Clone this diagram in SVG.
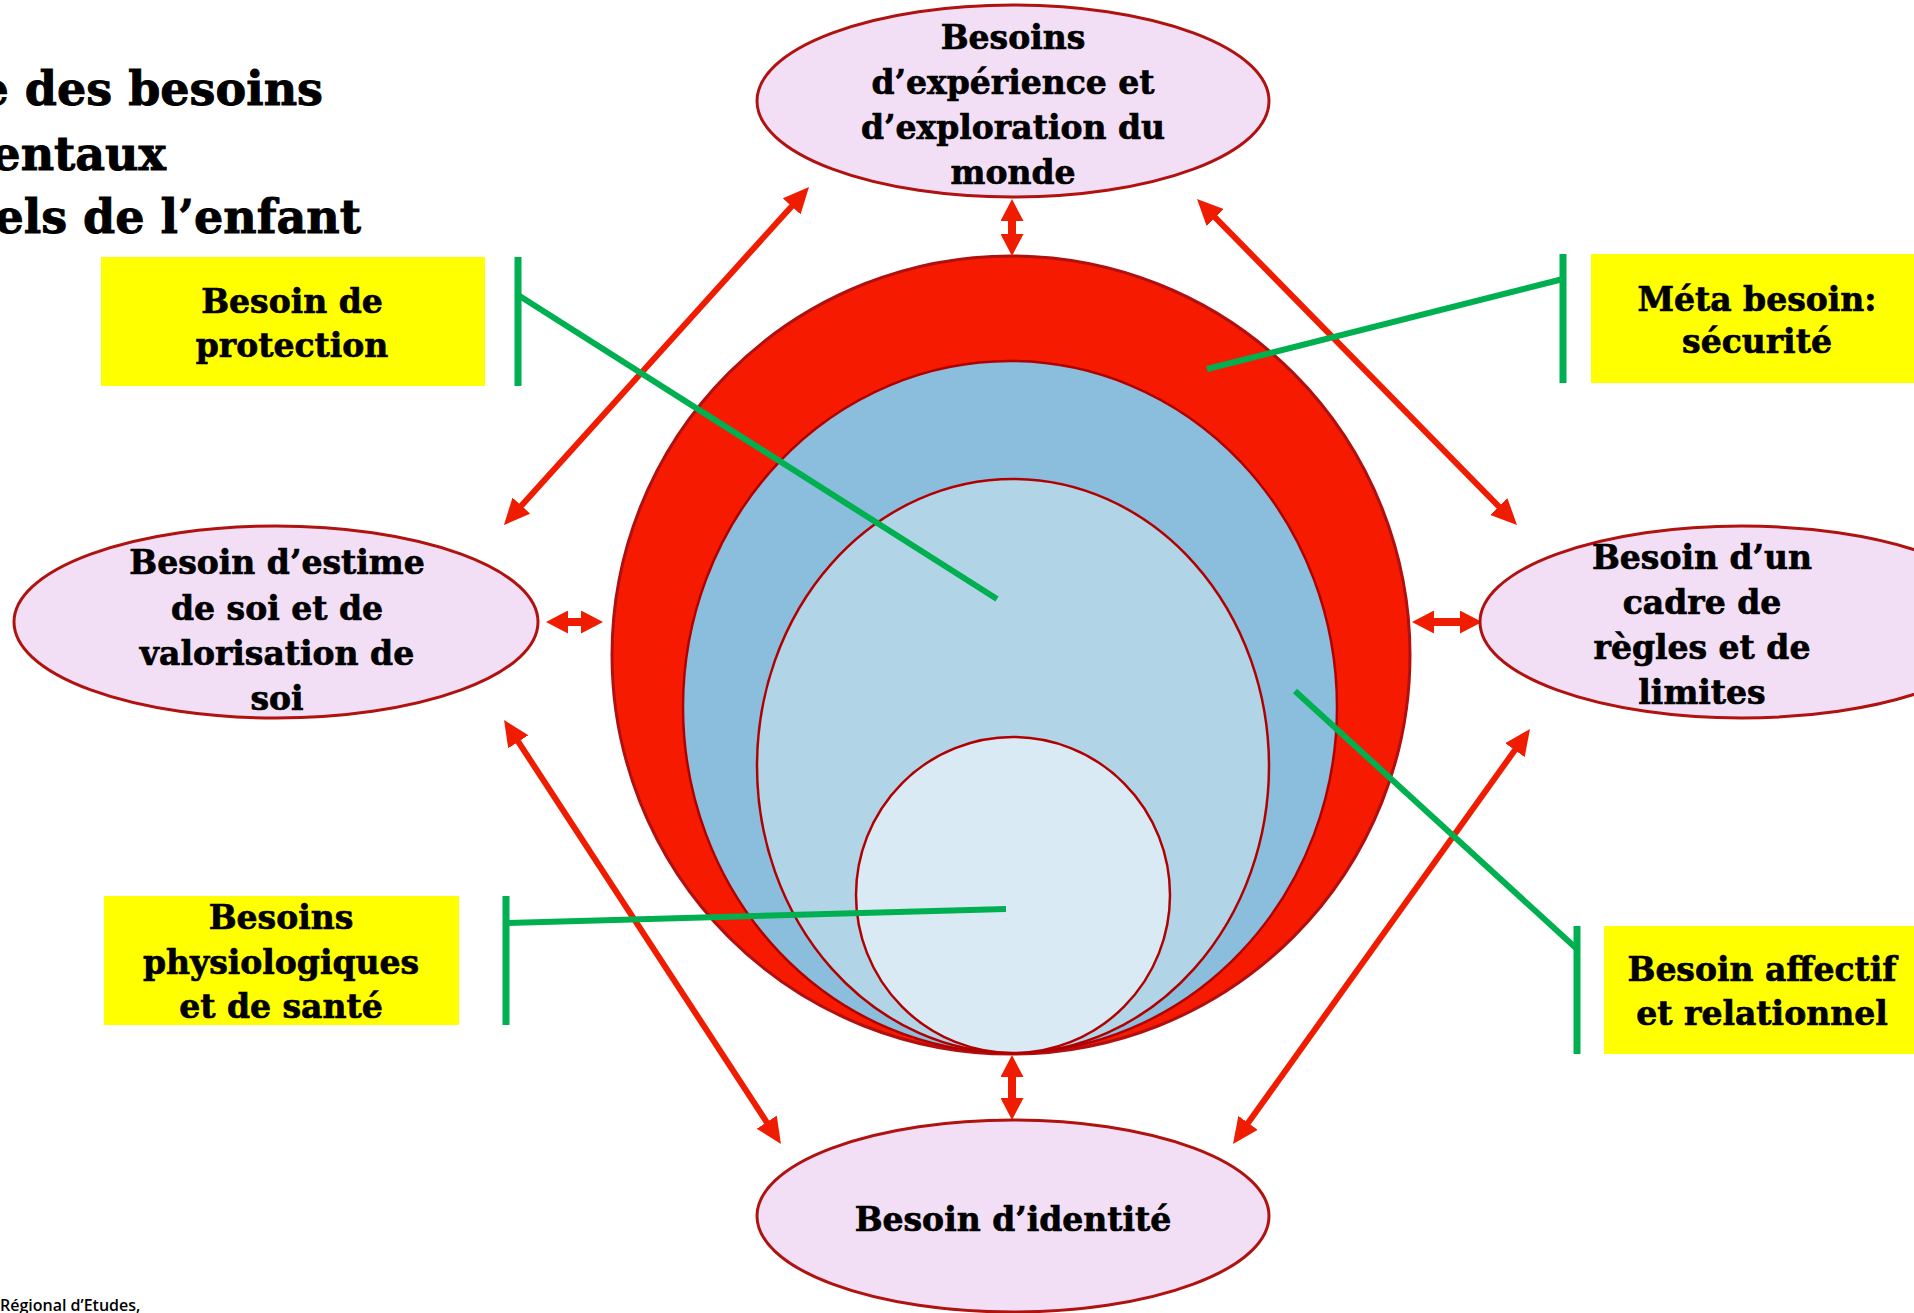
<svg xmlns="http://www.w3.org/2000/svg" width="1914" height="1313" viewBox="0 0 1914 1313">
<style>
.t{font-family:"DejaVu Serif","Liberation Serif",serif;font-weight:bold;font-size:33px;fill:#000;stroke:#000;stroke-width:0.7;text-anchor:middle}
.title{font-family:"DejaVu Serif","Liberation Serif",serif;font-weight:bold;font-size:46px;fill:#000;stroke:#000;stroke-width:0.9;text-anchor:end}
.node{fill:#F2DFF6;stroke:#B0120F;stroke-width:3}
.box{fill:#FFFF00}
.g{stroke:#00B050;stroke-width:6;fill:none}
.bar{stroke:#00B050;stroke-width:7;fill:none}
.r{stroke:#EF1C00;stroke-width:6;fill:none;marker-start:url(#ah);marker-end:url(#ah)}
.rs{stroke:#EF1C00;stroke-width:8;fill:none;marker-start:url(#hs);marker-end:url(#hs)}
</style>
<defs>
<marker id="ah" markerUnits="userSpaceOnUse" markerWidth="26" markerHeight="24" refX="10" refY="12" orient="auto-start-reverse" viewBox="0 0 26 24">
<path d="M0,0 L26,12 L0,24 Z" fill="#EF1C00"/>
</marker>
<marker id="hs" markerUnits="userSpaceOnUse" markerWidth="22" markerHeight="23" refX="8" refY="11.5" orient="auto-start-reverse" viewBox="0 0 22 23">
<path d="M0,0 L22,11.5 L0,23 Z" fill="#EF1C00"/>
</marker>
</defs>
<rect width="1914" height="1313" fill="#fff"/>

<g id="title">
<text class="title" x="323" y="105">e des besoins</text>
<text class="title" x="166" y="170">entaux</text>
<text class="title" x="361" y="233">els de l’enfant</text>
</g>

<g id="circles">
<circle cx="1011" cy="655" r="399" fill="#F61A00" stroke="#B01010" stroke-width="3"/>
<ellipse cx="1010" cy="707" rx="327" ry="346" fill="#8BBEDC" stroke="#B00000" stroke-width="2.5"/>
<ellipse cx="1013" cy="766" rx="256" ry="287" fill="#B2D4E7" stroke="#B00000" stroke-width="2.5"/>
<ellipse cx="1013" cy="895" rx="157" ry="158" fill="#D9EAF4" stroke="#B00000" stroke-width="2.5"/>
</g>

<g id="connectors">
<line class="r" x1="798.3" y1="198.9" x2="514.7" y2="513.1"/>
<line class="r" x1="1208.2" y1="210.4" x2="1505.8" y2="513.6"/>
<line class="r" x1="512.8" y1="733.4" x2="772.2" y2="1130.6"/>
<line class="r" x1="1520.7" y1="742" x2="1242.3" y2="1131"/>
<line class="rs" x1="1012" y1="213" x2="1012" y2="242"/>
<line class="rs" x1="1012" y1="1069" x2="1012" y2="1106"/>
<line class="rs" x1="560" y1="622" x2="589" y2="622"/>
<line class="rs" x1="1426" y1="622" x2="1468" y2="622"/>
<line class="g" x1="518" y1="295" x2="997" y2="599"/>
<line class="g" x1="1563" y1="279" x2="1207" y2="369"/>
<line class="g" x1="506" y1="923" x2="1006" y2="909"/>
<line class="g" x1="1577" y1="949" x2="1295" y2="691"/>
<line class="bar" x1="518" y1="257" x2="518" y2="386"/>
<line class="bar" x1="1563" y1="254" x2="1563" y2="383"/>
<line class="bar" x1="506" y1="896" x2="506" y2="1025"/>
<line class="bar" x1="1577" y1="926" x2="1577" y2="1054"/>
</g>

<g id="n-experience">
<ellipse class="node" cx="1013" cy="101" rx="256" ry="96"/>
<text class="t" x="1013" y="49">Besoins</text>
<text class="t" x="1013" y="94">d’expérience et</text>
<text class="t" x="1013" y="139">d’exploration du</text>
<text class="t" x="1013" y="184">monde</text>
</g>

<g id="n-estime">
<ellipse class="node" cx="276" cy="622" rx="262" ry="96"/>
<text class="t" x="277" y="574">Besoin d’estime</text>
<text class="t" x="277" y="620">de soi et de</text>
<text class="t" x="277" y="665">valorisation de</text>
<text class="t" x="277" y="710">soi</text>
</g>

<g id="n-cadre">
<ellipse class="node" cx="1742" cy="622" rx="262" ry="96"/>
<text class="t" x="1702" y="569">Besoin d’un</text>
<text class="t" x="1702" y="614">cadre de</text>
<text class="t" x="1702" y="659">règles et de</text>
<text class="t" x="1702" y="704">limites</text>
</g>

<g id="n-identite">
<ellipse class="node" cx="1013" cy="1216" rx="256" ry="96"/>
<text class="t" x="1013" y="1231">Besoin d’identité</text>
</g>

<g id="b-protection">
<rect class="box" x="101" y="257" width="384" height="129"/>
<text class="t" x="292" y="313">Besoin de</text>
<text class="t" x="292" y="357">protection</text>
</g>

<g id="b-securite">
<rect class="box" x="1591" y="254" width="323" height="129"/>
<text class="t" x="1757" y="311">Méta besoin:</text>
<text class="t" x="1757" y="353">sécurité</text>
</g>

<g id="b-physio">
<rect class="box" x="104" y="896" width="355" height="129"/>
<text class="t" x="281" y="929">Besoins</text>
<text class="t" x="281" y="974">physiologiques</text>
<text class="t" x="281" y="1018">et de santé</text>
</g>

<g id="b-affectif">
<rect class="box" x="1604" y="926" width="310" height="128"/>
<text class="t" x="1762" y="981">Besoin affectif</text>
<text class="t" x="1762" y="1025">et relationnel</text>
</g>

<g id="footer">
<text x="0" y="1311" font-family="'Open Sans','DejaVu Sans',sans-serif" font-weight="600" font-size="16" fill="#000">Régional d’Etudes,</text>
</g>
</svg>
